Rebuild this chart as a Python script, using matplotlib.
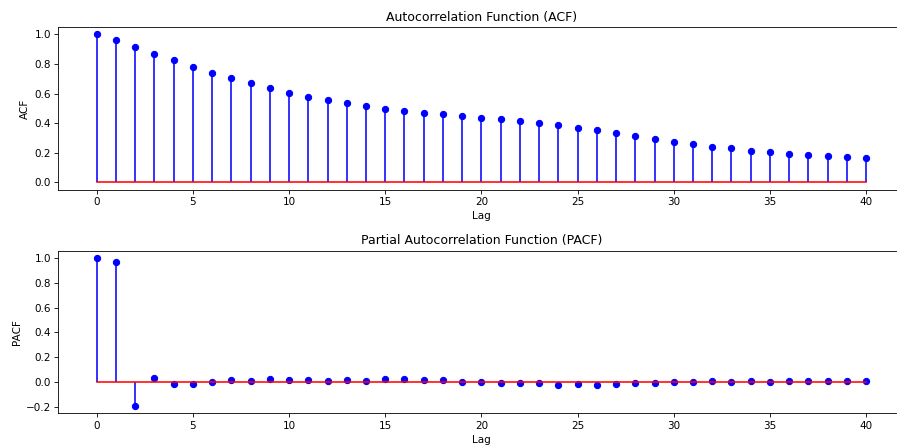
import numpy as np
import matplotlib
matplotlib.use("Agg")
import matplotlib.pyplot as plt

lags = np.arange(41)

acf_vals = [1.0, 0.963, 0.916, 0.869, 0.826, 0.783, 0.741, 0.703, 0.669, 0.635,
            0.606, 0.579, 0.557, 0.534, 0.516, 0.498, 0.485, 0.471, 0.460, 0.449,
            0.438, 0.426, 0.415, 0.400, 0.386, 0.370, 0.352, 0.332, 0.314, 0.294,
            0.276, 0.258, 0.242, 0.229, 0.215, 0.204, 0.193, 0.184, 0.177, 0.173,
            0.168]

pacf_vals = [1.0, 0.965, -0.193, 0.032, -0.016, -0.019, 0.0, 0.016, 0.011, 0.021,
             0.013, 0.019, 0.008, 0.019, 0.011, 0.024, 0.024, 0.016, 0.013, 0.003,
             0.0, -0.005, -0.011, -0.005, -0.024, -0.019, -0.027, -0.013, -0.011, -0.008,
             -0.003, -0.003, 0.005, 0.003, 0.005, -0.003, 0.008, 0.005, 0.011, 0.011,
             0.008]

plt.figure(figsize=(11.96, 5.96), dpi=75)

plt.subplot(2, 1, 1)
plt.stem(lags, acf_vals, linefmt='b-', markerfmt='bo', basefmt='r-')
plt.title('Autocorrelation Function (ACF)')
plt.xlabel('Lag')
plt.ylabel('ACF')

plt.subplot(2, 1, 2)
plt.stem(lags, pacf_vals, linefmt='b-', markerfmt='bo', basefmt='r-')
plt.title('Partial Autocorrelation Function (PACF)')
plt.xlabel('Lag')
plt.ylabel('PACF')

# axes run slightly past the right edge, like the cropped original
plt.subplots_adjust(left=0.0649, right=1.0085, top=0.9396, bottom=0.0754, hspace=0.373)
plt.savefig("out.png", dpi=75)
